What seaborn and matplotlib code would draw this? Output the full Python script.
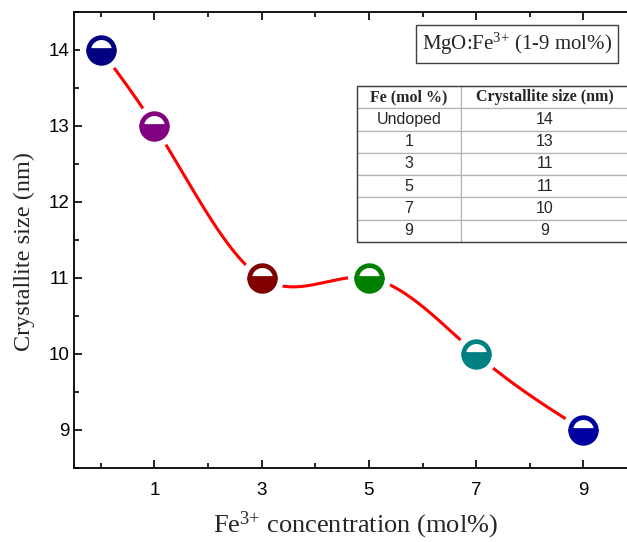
import numpy as np
import matplotlib
matplotlib.use("Agg")
import matplotlib.pyplot as plt
import seaborn as sns
import pandas as pd
from matplotlib.ticker import MultipleLocator, FixedLocator
from matplotlib.patches import Rectangle
from matplotlib.font_manager import FontProperties

# Fe3+ content (mol%) and the measured crystallite size (nm)
fe_labels = ["Undoped", "1", "3", "5", "7", "9"]
fe_conc = [0, 1, 3, 5, 7, 9]
crystallite_nm = [14, 13, 11, 11, 10, 9]
point_colors = ["#000080", "#800080", "#800000", "#008000", "#008080", "#0000A0"]
x_ticks = [1, 3, 5, 7, 9]
y_ticks = [9, 10, 11, 12, 13, 14]

sns.set_theme(style="ticks")
plt.rcParams["font.family"] = ["Liberation Sans", "DejaVu Sans"]
plt.rcParams["mathtext.fontset"] = "custom"
plt.rcParams["mathtext.rm"] = "Liberation Serif"
plt.rcParams["mathtext.it"] = "Liberation Serif:italic"


def natural_spline(x, y, n=400):
    """Evaluate a natural cubic spline through (x, y)."""
    x = np.asarray(x, float)
    y = np.asarray(y, float)
    k = len(x)
    h = np.diff(x)
    A = np.zeros((k, k))
    b = np.zeros(k)
    A[0, 0] = A[-1, -1] = 1.0
    for i in range(1, k - 1):
        A[i, i - 1] = h[i - 1]
        A[i, i] = 2 * (h[i - 1] + h[i])
        A[i, i + 1] = h[i]
        b[i] = 3 * ((y[i + 1] - y[i]) / h[i] - (y[i] - y[i - 1]) / h[i - 1])
    c = np.linalg.solve(A, b)
    xs = np.linspace(x[0], x[-1], n)
    ys = np.empty_like(xs)
    for j, xv in enumerate(xs):
        i = min(np.searchsorted(x, xv, side="right") - 1, k - 2)
        bi = (y[i + 1] - y[i]) / h[i] - h[i] * (2 * c[i] + c[i + 1]) / 3
        di = (c[i + 1] - c[i]) / (3 * h[i])
        t = xv - x[i]
        ys[j] = y[i] + bi * t + c[i] * t ** 2 + di * t ** 3
    return xs, ys


fig = plt.figure(figsize=(6.27, 5.42), dpi=100)
ax = fig.add_axes([74 / 627, 74 / 542, 563 / 627, 456 / 542])

xs, ys = natural_spline(fe_conc, crystallite_nm)
curve = pd.DataFrame({"x": xs, "y": ys})
sns.lineplot(data=curve, x="x", y="y", ax=ax, color="#FF0000", linewidth=2.2,
             sort=False, zorder=2)

# white halo under each marker leaves a gap in the curve
ax.plot(fe_conc, crystallite_nm, linestyle="none", marker="o", markersize=30,
        markerfacecolor="white", markeredgecolor="white", zorder=3)
for xv, yv, col in zip(fe_conc, crystallite_nm, point_colors):
    ax.plot([xv], [yv], linestyle="none", marker="o", markersize=18.5,
            fillstyle="bottom", markerfacecolor=col, markerfacecoloralt="white",
            markeredgecolor=col, markeredgewidth=3.4, zorder=4)

ax.set_xlim(-0.5, 10)
ax.set_ylim(8.5, 14.5)
ax.xaxis.set_major_locator(FixedLocator(x_ticks))
ax.xaxis.set_minor_locator(FixedLocator([0, 2, 4, 6, 8, 10]))
ax.yaxis.set_major_locator(FixedLocator(y_ticks))
ax.yaxis.set_minor_locator(MultipleLocator(0.5))
ax.tick_params(which="both", direction="in", top=True, right=True,
               labelsize=13.5, colors="black", width=1.2)
ax.tick_params(which="major", length=6)
ax.tick_params(which="minor", length=3.5)
ax.tick_params(axis="x", pad=10)
for sp in ax.spines.values():
    sp.set_linewidth(1.3)
    sp.set_color("black")

ax.set_xlabel(r"Fe$^{3{+}}$ concentration (mol%)", fontsize=19,
              family="Liberation Serif", labelpad=8)
ax.set_ylabel("Crystallite size (nm)", fontsize=17.5, family="Liberation Serif")
ax.yaxis.set_label_coords(-0.070, 0.475)

# sample label
fig.text(517 / 627, 1 - 44 / 542, r"MgO:Fe$^{3{+}}$ (1-9 mol%)", fontsize=15,
         family="Liberation Serif", ha="center", va="center",
         bbox=dict(boxstyle="square,pad=0.3", facecolor="white",
                   edgecolor="#404040", linewidth=1.0))

# inset data table (runs off the right edge of the figure)
tx0, tx1, ty0, ty1 = 357, 629, 86, 242
cells = [[lab, str(v)] for lab, v in zip(fe_labels, crystallite_nm)]
tbl = ax.table(cellText=cells, colLabels=["Fe (mol %)", "Crystallite size (nm)"],
               cellLoc="center", colWidths=[104 / 272, 168 / 272],
               bbox=[(tx0 - 74) / 563, 1 - (ty1 - 12) / 456,
                     (tx1 - tx0) / 563, (ty1 - ty0) / 456], zorder=5)
tbl.auto_set_font_size(False)
for (r, c), cell in tbl.get_celld().items():
    cell.set_edgecolor("#b4b4b4")
    cell.set_linewidth(0.9)
    cell.set_facecolor("white")
    if r == 0:
        cell.get_text().set_fontproperties(
            FontProperties(family="Liberation Serif", weight="bold", size=11.5))
    else:
        cell.get_text().set_fontsize(11.5)
ax.add_patch(Rectangle(((tx0 - 74) / 563, 1 - (ty1 - 12) / 456),
                       (tx1 - tx0) / 563, (ty1 - ty0) / 456,
                       transform=ax.transAxes, fill=False, edgecolor="#404040",
                       linewidth=1.0, zorder=6))

fig.savefig("out.png", dpi=100)
